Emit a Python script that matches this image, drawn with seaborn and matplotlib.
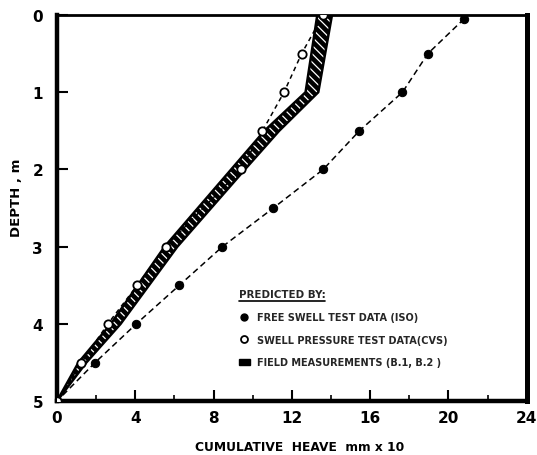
import numpy as np
import pandas as pd
import matplotlib
matplotlib.use("Agg")
import matplotlib.pyplot as plt
import seaborn as sns
from matplotlib.lines import Line2D
from matplotlib.patches import Patch

# ---- data ----
free_depth = [0.05, 0.5, 1.0, 1.5, 2.0, 2.5, 3.0, 3.5, 4.0, 4.5, 5.0]
free_heave = [20.8, 18.95, 17.65, 15.45, 13.6, 11.05, 8.45, 6.25, 4.05, 1.95, 0.0]

press_depth = [0.0, 0.5, 1.0, 1.5, 2.0, 3.0, 3.5, 4.0, 4.5, 5.0]
press_heave = [13.6, 12.5, 11.6, 10.5, 9.4, 5.55, 4.1, 2.6, 1.25, 0.0]

field_depth = [0.0, 1.0, 1.5, 2.0, 3.0, 4.0, 4.5, 5.0]
field_left = [13.3, 12.7, 10.6, 8.9, 5.5, 2.75, 1.1, 0.0]
field_right = [14.05, 13.35, 11.35, 9.6, 6.15, 3.25, 1.5, 0.0]

x_ticks = [0, 4, 8, 12, 16, 20, 24]
y_ticks = [0, 1, 2, 3, 4, 5]

legend_title = "PREDICTED BY:"
legend_labels = ["FREE SWELL TEST DATA (ISO)",
                 "SWELL PRESSURE TEST DATA(CVS)",
                 "FIELD MEASUREMENTS (B.1, B.2 )"]

sns.set_theme(style="white")
plt.rcParams['font.family'] = ['DejaVu Sans']
plt.rcParams['hatch.linewidth'] = 0.9

fig = plt.figure(figsize=(5.37, 4.56), dpi=100)
ax = fig.add_axes([0.106, 0.118, 0.875, 0.847])

free_df = pd.DataFrame({"heave": free_heave, "depth": free_depth})
press_df = pd.DataFrame({"heave": press_heave, "depth": press_depth})

# field measurement band: dark strip with white hatch strokes
ax.fill_betweenx(field_depth, field_left, field_right, facecolor="black",
                 edgecolor="white", hatch="\\\\\\\\", linewidth=0, zorder=2)
ax.plot(field_left, field_depth, color="black", lw=1.8, zorder=3)
ax.plot(field_right, field_depth, color="black", lw=1.8, zorder=3)

sns.lineplot(data=free_df, x="heave", y="depth", sort=False, ax=ax,
             color="black", lw=1.1, linestyle=(0, (4, 2.5)),
             marker="o", markersize=6, markerfacecolor="black",
             markeredgecolor="black", zorder=4)
sns.lineplot(data=press_df, x="heave", y="depth", sort=False, ax=ax,
             color="black", lw=1.1, linestyle=(0, (3, 2.5)),
             marker="o", markersize=6, markerfacecolor="white",
             markeredgecolor="black", markeredgewidth=1.3, zorder=5)

ax.set_xlim(0, 24)
ax.set_ylim(5, 0)
ax.set_xticks(x_ticks)
ax.set_yticks(y_ticks)
ax.set_xticks([2, 6, 10, 14, 18, 22], minor=True)
ax.set_xticklabels([str(t) for t in x_ticks])
ax.set_yticklabels([str(t) for t in y_ticks])

for lab in ax.get_xticklabels() + ax.get_yticklabels():
    lab.set_fontweight("bold")
    lab.set_fontsize(11)

ax.tick_params(axis="both", which="major", direction="in", length=8,
               width=1.5, color="black", labelcolor="black")
ax.tick_params(axis="y", which="major", pad=10, left=True)
ax.tick_params(axis="x", which="major", pad=6, bottom=True)
ax.tick_params(axis="x", which="minor", direction="in", length=4,
               width=1.2, bottom=True, color="black")

for side, lw in [("left", 3.2), ("bottom", 3.2), ("right", 3.6), ("top", 2.0)]:
    ax.spines[side].set_visible(True)
    ax.spines[side].set_color("black")
    ax.spines[side].set_linewidth(lw)

ax.set_xlabel("CUMULATIVE  HEAVE  mm x 10", fontsize=8.8, fontweight="bold",
              color="black")
ax.xaxis.set_label_coords(0.517, -0.1)
ax.set_ylabel("DEPTH , m", fontsize=9.5, fontweight="bold", color="black")
ax.yaxis.set_label_coords(-0.072, 0.528)

handles = [
    Line2D([], [], marker="o", linestyle="none", markersize=5,
           markerfacecolor="black", markeredgecolor="black"),
    Line2D([], [], marker="o", linestyle="none", markersize=5,
           markerfacecolor="white", markeredgecolor="black",
           markeredgewidth=1.3),
    Patch(facecolor="black", edgecolor="black"),
]
leg = ax.legend(handles, legend_labels, loc="lower left",
                bbox_to_anchor=(0.372, 0.07), frameon=False,
                prop={"size": 7.0, "weight": "bold"},
                handlelength=1.2, handletextpad=0.7, labelspacing=1.3,
                borderpad=0.2)
leg.set_title(legend_title, prop={"size": 7.4, "weight": "bold"})
leg._legend_box.align = "left"

# underline of the legend title
fig.canvas.draw()
bb = leg.get_title().get_window_extent().transformed(ax.transAxes.inverted())
ax.plot([bb.x0, bb.x1], [bb.y0 - 0.004, bb.y0 - 0.004], transform=ax.transAxes,
        color="black", lw=1.2, clip_on=False)

fig.savefig("out.png", dpi=100)
